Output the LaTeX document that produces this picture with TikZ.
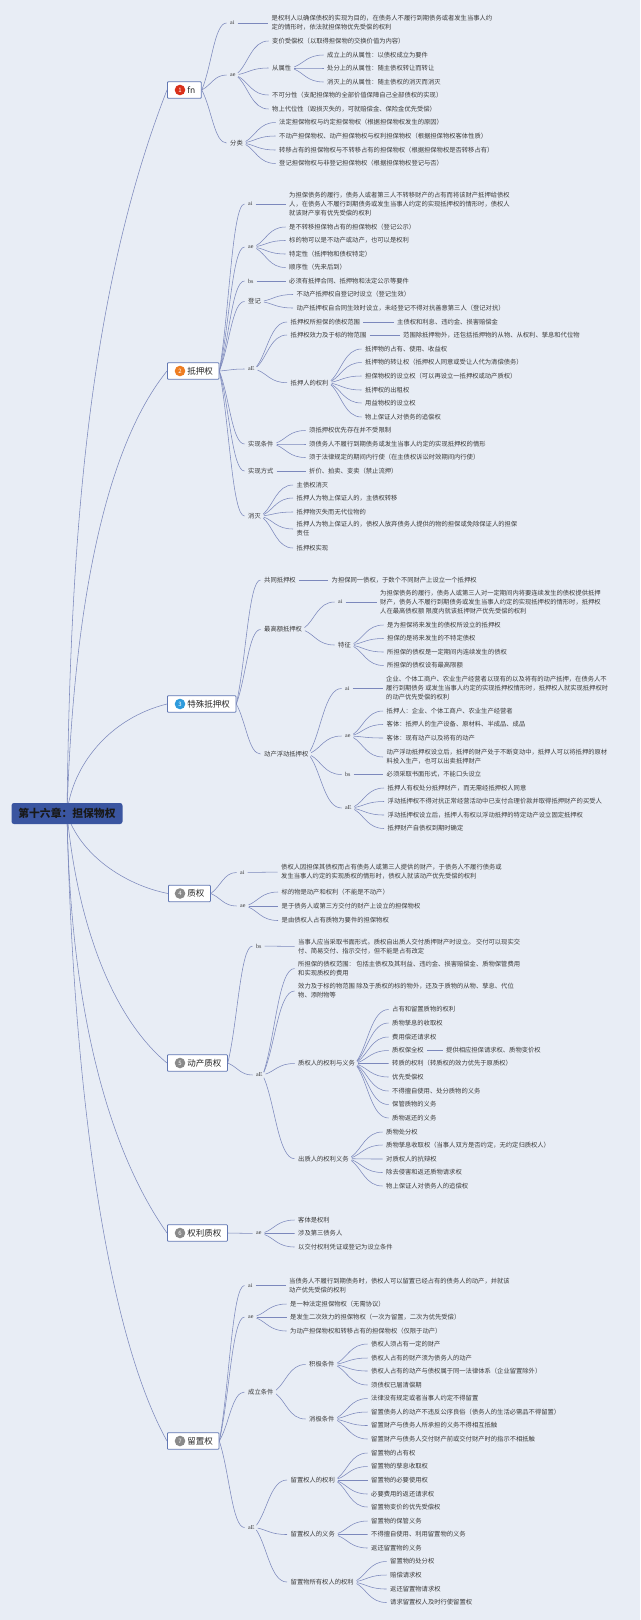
\documentclass[tikz,border=0pt]{standalone}
\usepackage{fontspec}
\usepackage{xcolor}
\setmainfont{Noto Sans CJK SC}
\newfontfamily\tagfont{Liberation Serif}
\usetikzlibrary{calc,backgrounds}

\definecolor{paper}{HTML}{E8EDF5}
\definecolor{ink}{HTML}{3A3A3A}
\definecolor{wire}{HTML}{7C88BC}
\definecolor{rootblue}{HTML}{3A55A0}
\definecolor{dotred}{HTML}{D9301A}
\definecolor{dotorange}{HTML}{EE7D22}
\definecolor{dotblue}{HTML}{2E9BDC}
\definecolor{dotgray}{HTML}{8A8A8A}

\tikzset{
  leaf/.style={anchor=west,inner sep=0pt,align=left,text=ink,font=\fontsize{6.3}{9}\selectfont},
  tag/.style={anchor=west,inner sep=0pt,text=ink,font=\tagfont\fontsize{6}{7}\selectfont},
  topic/.style={anchor=west,draw=rootblue!80,line width=.8pt,fill=white,rounded corners=.8pt,
    inner xsep=6pt,inner ysep=0pt,minimum height=16.5pt,text=black!85,font=\fontsize{8.5}{10}\selectfont},
  badge/.style={circle,inner sep=0pt,minimum size=10.6pt,text=white,font=\fontsize{6}{7}\selectfont},
  link/.style={draw=wire,line width=.55pt,shorten <=3pt,shorten >=3.5pt},
  trunk/.style={draw=wire,line width=.55pt},
  fan/.style={to path={.. controls ($(\tikztostart)!.35!(\tikztotarget)$)
    and ($(\tikztostart |- \tikztotarget)!.45!(\tikztotarget)$) .. (\tikztotarget)}}
}
% children of a node: \kids{parent}{x of the text}{y/text,...}
\newcommand{\kids}[3]{%
  \foreach \y/\txt [count=\i] in {#3} {
    \node[leaf] (#1-\i) at (#2,\y) {\txt};
    \draw[link] (#1.east) to[fan] (#1-\i.west);
  }
}
% one child on a straight wire
\newcommand{\onekid}[4]{%
  \node[leaf] (#1-1) at (#2,#3) {#4};
  \draw[link] (#1.east) -- (#1-1.west);
}

\begin{document}
\begin{tikzpicture}[x=1pt,y=-1pt]
\useasboundingbox (0,0) rectangle (640,1620);
\begin{scope}[on background layer]
\fill[paper] (0,0) rectangle (640,1620);
\end{scope}
% Root
\node[fill=rootblue,rounded corners=2.5pt,minimum width=111pt,minimum height=21pt,inner sep=0pt,
  text=black!90,font=\bfseries\fontsize{10.8}{12}\selectfont] (root) at (67,813.5) {第十六章：担保物权};
% Main topics
\node[topic] (t1) at (167,90) {\hspace{14pt}fn};
\node[topic] (t2) at (167,371) {\hspace{14pt}抵押权};
\node[topic] (t3) at (167,704) {\hspace{14pt}特殊抵押权};
\node[topic] (t4) at (168,893.5) {\hspace{13pt}质权};
\node[topic] (t5) at (167,1063) {\hspace{14pt}动产质权};
\node[topic] (t6) at (167,1233) {\hspace{14pt}权利质权};
\node[topic] (t7) at (167,1441) {\hspace{14pt}留置权};
\foreach \nm/\y/\col/\n in {b1/90/dotred/1, b2/371/dotorange/2, b3/704/dotblue/3, b4/893.5/dotgray/4,
  b5/1063/dotgray/5, b6/1233/dotgray/6, b7/1441/dotgray/7}
  \node[badge,fill=\col] (\nm) at (180,\y) {\n};
\begin{scope}[on background layer]
\draw[trunk] (root.center) .. controls (70,560) and (85,300) .. (t1.west);
\draw[trunk] (root.center) .. controls (72,650) and (95,460) .. (t2.west);
\draw[trunk] (root.center) .. controls (72,765) and (110,718) .. (t3.west);
\draw[trunk] (root.center) .. controls (80,855) and (125,885) .. (t4.west);
\draw[trunk] (root.center) .. controls (78,930) and (115,1020) .. (t5.west);
\draw[trunk] (root.center) .. controls (70,1000) and (105,1145) .. (t6.west);
\draw[trunk] (root.center) .. controls (72,1050) and (100,1320) .. (t7.west);
\end{scope}

% 1
\foreach \nm/\x/\y/\txt in {s1/230/23/ai, s2/230/75/ae} {
  \node[tag] (\nm) at (\x,\y) {\txt};
  \draw[link,shorten <=0pt] (t1.east) to[fan] (\nm.west);
}
\node[leaf] (s3) at (230,143) {分类};
\draw[link,shorten <=0pt] (t1.east) to[fan] (s3.west);
\onekid{s1}{271.5}{23}{是权利人以确保债权的实现为目的，在债务人不履行到期债务或者发生当事人约\\定的情形时，依法就担保物优先受偿的权利}
\kids{s2}{272}{41/变价受偿权（以取得担保物的交换价值为内容）, 68/从属性,
  95/不可分性（支配担保物的全部价值保障自己全部债权的实现）,
  109/物上代位性（毁损灭失的，可就赔偿金、保险金优先受偿）}
\kids{s2-2}{327}{55/成立上的从属性：以债权成立为要件, 68/处分上的从属性：随主债权转让而转让,
  82/消灭上的从属性：随主债权的消灭而消灭}
\kids{s3}{279}{122.5/法定担保物权与约定担保物权（根据担保物权发生的原因）,
  136/不动产担保物权、动产担保物权与权利担保物权（根据担保物权客体性质）,
  150/转移占有的担保物权与不转移占有的担保物权（根据担保物权是否转移占有）,
  163.5/登记担保物权与非登记担保物权（根据担保物权登记与否）}

% 2
\foreach \nm/\y/\txt in {d1/204/ai, d2/247/ae, d3/281/bs, d5/369/aE} {
  \node[tag] (\nm) at (248,\y) {\txt};
  \draw[link,shorten <=0pt] (t2.east) to[fan] (\nm.west);
}
\foreach \nm/\y/\txt in {d4/301.5/登记, d6/444/实现条件, d7/471/实现方式, d8/516/消灭} {
  \node[leaf] (\nm) at (248,\y) {\txt};
  \draw[link,shorten <=0pt] (t2.east) to[fan] (\nm.west);
}
\onekid{d1}{289}{204}{为担保债务的履行，债务人或者第三人不转移财产的占有而将该财产抵押给债权\\人，在债务人不履行到期债务或发生当事人约定的实现抵押权的情形时，债权人\\就该财产享有优先受偿的权利}
\kids{d2}{289}{227/是不转移担保物占有的担保物权（登记公示）, 240.5/标的物可以是不动产或动产，也可以是权利,
  254/特定性（抵押物和债权特定）, 267.5/顺序性（先来后到）}
\onekid{d3}{289}{281}{必须有抵押合同、抵押物和法定公示等要件}
\kids{d4}{296.5}{294.5/不动产抵押权自登记时设立（登记生效）,
  308/动产抵押权自合同生效时设立，未经登记不得对抗善意第三人（登记对抗）}
\kids{d5}{290.5}{322/抵押权所担保的债权范围, 335/抵押权效力及于标的物范围, 382.7/抵押人的权利}
\onekid{d5-1}{397}{322}{主债权和利息、违约金、损害赔偿金}
\onekid{d5-2}{403}{335}{范围除抵押物外，还包括抵押物的从物、从权利、孳息和代位物}
\kids{d5-3}{365}{349/抵押物的占有、使用、收益权, 362.5/抵押物的转让权（抵押权人同意或受让人代为清偿债务）,
  376/担保物权的设立权（可以再设立一抵押权或动产质权）, 390/抵押权的出租权,
  403/用益物权的设立权, 417/物上保证人对债务的追偿权}
\kids{d6}{309}{430.5/须抵押权优先存在并不受限制, 444/须债务人不履行到期债务或发生当事人约定的实现抵押权的情形,
  457.5/须于法律规定的期间内行使（在主债权诉讼时效期间内行使）}
\onekid{d7}{309}{471}{折价、拍卖、变卖（禁止流押）}
\kids{d8}{296.5}{485/主债权消灭, 498/抵押人为物上保证人的，主债权转移, 512/抵押物灭失而无代位物的,
  529/抵押人为物上保证人的，债权人放弃债务人提供的物的担保或免除保证人的担保\\责任, 548/抵押权实现}

% 3
\foreach \nm/\y/\txt in {e1/580/共同抵押权, e2/629.5/最高额抵押权, e3/754/动产浮动抵押权} {
  \node[leaf] (\nm) at (264,\y) {\txt};
  \draw[link,shorten <=0pt] (t3.east) to[fan] (\nm.west);
}
\onekid{e1}{331.5}{580}{为担保同一债权，于数个不同财产上设立一个抵押权}
\node[tag] (e2a) at (338,602) {ai};
\node[leaf] (e2b) at (338,645) {特征};
\draw[link] (e2.east) to[fan] (e2a.west);
\draw[link] (e2.east) to[fan] (e2b.west);
\onekid{e2a}{380}{602}{为担保债务的履行，债务人或第三人对一定期间内将要连续发生的债权提供抵押\\财产，债务人不履行到期债务或发生当事人约定的实现抵押权的情形时，抵押权\\人在最高债权额 限度内就该抵押财产优先受偿的权利}
\kids{e2b}{387}{625/是为担保将来发生的债权所设立的抵押权, 638.5/担保的是将来发生的不特定债权,
  652/所担保的债权是一定期间内连续发生的债权, 665.5/所担保的债权设有最高限额}
\foreach \nm/\y/\txt in {e3a/688.5/ai, e3b/736/ae, e3c/774.5/bs, e3d/808/aE} {
  \node[tag] (\nm) at (345,\y) {\txt};
  \draw[link] (e3.east) to[fan] (\nm.west);
}
\onekid{e3a}{386}{688.5}{企业、个体工商户、农业生产经营者以现有的以及将有的动产抵押，在债务人不\\履行到期债务 或发生当事人约定的实现抵押权情形时，抵押权人就实现抵押权时\\的动产优先受偿的权利}
\kids{e3b}{386.5}{711/抵押人：企业、个体工商户、农业生产经营者, 724.5/客体：抵押人的生产设备、原材料、半成品、成品,
  738/客体：现有动产以及将有的动产,
  757/动产浮动抵押权设立后，抵押的财产处于不断变动中，抵押人可以将抵押的原材\\料投入生产，也可以出卖抵押财产}
\onekid{e3c}{386.5}{774.5}{必须采取书面形式，不能口头设立}
\kids{e3d}{387.5}{788/抵押人有权处分抵押财产，而无需经抵押权人同意,
  801.5/浮动抵押权不得对抗正常经营活动中已支付合理价款并取得抵押财产的买受人,
  815/浮动抵押权设立后，抵押人有权以浮动抵押的特定动产设立固定抵押权, 828.5/抵押财产自债权到期时确定}

% 4
\foreach \nm/\y/\txt in {f1/872.5/ai, f2/906/ae} {
  \node[tag] (\nm) at (240,\y) {\txt};
  \draw[link,shorten <=0pt] (t4.east) to[fan] (\nm.west);
}
\onekid{f1}{281}{872}{债权人因担保其债权而占有债务人或第三人提供的财产，于债务人不履行债务或\\发生当事人约定的实现质权的情形时，债权人就该动产优先受偿的权利}
\kids{f2}{281.5}{892/标的物是动产和权利（不能是不动产）, 906/是于债务人或第三方交付的财产上设立的担保物权,
  920.5/是由债权人占有质物为要件的担保物权}

% 5
\foreach \nm/\y/\txt in {g1/946/bs, g2/1075/aE} {
  \node[tag] (\nm) at (256,\y) {\txt};
  \draw[link,shorten <=0pt] (t5.east) to[fan] (\nm.west);
}
\onekid{g1}{298}{946.5}{当事人应当采取书面形式。质权自出质人交付质押财产时设立。 交付可以现实交\\付、简易交付、指示交付，但不能是占有改定}
\kids{g2}{298}{968.5/所担保的债权范围： 包括主债权及其利益、违约金、损害赔偿金、质物保管费用\\和实现质权的费用,
  991/效力及于标的物范围 除及于质权的标的物外，还及于质物的从物、孳息、代位\\物、添附物等,
  1063.5/质权人的权利与义务, 1158.7/出质人的权利义务}
\kids{g2-3}{392}{1009.5/占有和留置质物的权利, 1023/质物孳息的收取权, 1037/费用偿还请求权, 1050.5/质权保全权,
  1063.5/转质的权利（转质权的效力优先于原质权）, 1077/优先受偿权, 1091/不得擅自使用、处分质物的义务,
  1104.5/保管质物的义务, 1118/质物返还的义务}
\onekid{g2-3-4}{446}{1050.5}{提供相应担保请求权、质物变价权}
\kids{g2-4}{386}{1132/质物处分权, 1145/质物孳息收取权（当事人双方是否约定，无约定归质权人）, 1159/对质权人的抗辩权,
  1172.5/除去侵害和返还质物请求权, 1186/物上保证人对债务人的追偿权}

% 6
\node[tag] (h1) at (256,1233.5) {ae};
\draw[link,shorten <=0pt] (t6.east) -- (h1.west);
\kids{h1}{298}{1220/客体是权利, 1233.5/涉及第三债务人, 1247/以交付权利凭证或登记为设立条件}

% 7
\foreach \nm/\y/\txt in {k1/1285.5/ai, k2/1317/ae, k4/1527.5/aE} {
  \node[tag] (\nm) at (248,\y) {\txt};
  \draw[link,shorten <=0pt] (t7.east) to[fan] (\nm.west);
}
\node[leaf] (k3) at (248,1392) {成立条件};
\draw[link,shorten <=0pt] (t7.east) to[fan] (k3.west);
\onekid{k1}{289}{1285.5}{当债务人不履行到期债务时，债权人可以留置已经占有的债务人的动产，并就该\\动产优先受偿的权利}
\kids{k2}{290}{1304/是一种法定担保物权（无需协议）, 1317/是发生二次效力的担保物权（一次为留置，二次为优先受偿）,
  1331/为动产担保物权和转移占有的担保物权（仅限于动产）}
\kids{k3}{309}{1364.5/积极条件, 1419/消极条件}
\kids{k3-1}{371}{1344/债权人须占有一定的财产, 1358/债权人占有的财产须为债务人的动产,
  1371/债权人占有的动产与债权属于同一法律体系（企业留置除外）, 1385/须债权已届清偿期}
\kids{k3-2}{371}{1398.5/法律没有规定或者当事人约定不得留置, 1412/留置债务人的动产不违反公序良俗（债务人的生活必需品不得留置）,
  1425.5/留置财产与债务人所承担的义务不得相互抵触, 1439/留置财产与债务人交付财产前或交付财产时的指示不相抵触}
\kids{k4}{290.5}{1480/留置权人的权利, 1534.5/留置权人的义务, 1582/留置物所有权人的权利}
\kids{k4-1}{371}{1453/留置物的占有权, 1466.5/留置物的孳息收取权, 1480/留置物的必要使用权,
  1494/必要费用的返还请求权, 1507/留置物变价的优先受偿权}
\kids{k4-2}{371}{1521/留置物的保管义务, 1534.5/不得擅自使用、利用留置物的义务, 1548/返还留置物的义务}
\kids{k4-3}{390}{1561.5/留置物的处分权, 1575/赔偿请求权, 1589/返还留置物请求权, 1602.5/请求留置权人及时行使留置权}
\end{tikzpicture}
\end{document}
